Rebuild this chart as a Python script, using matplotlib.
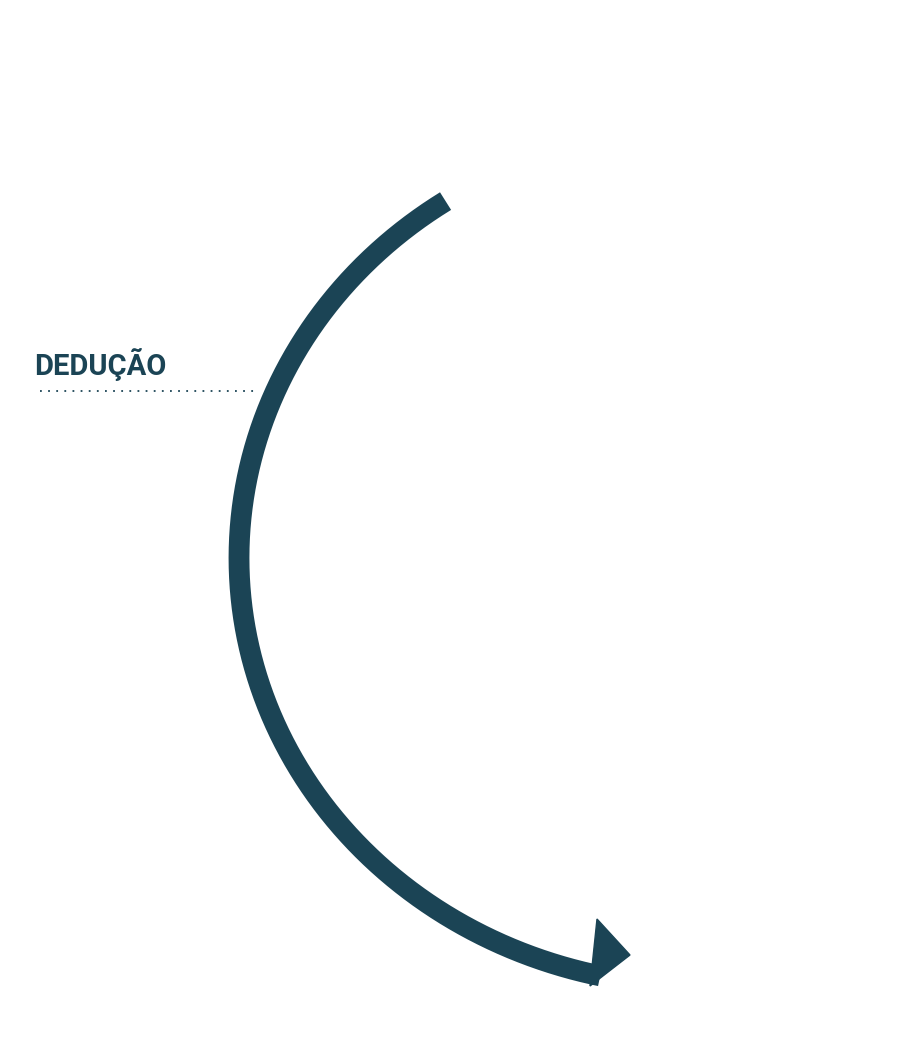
import numpy as np
import matplotlib.pyplot as plt
from matplotlib.patches import Polygon

# Diagram geometry in pixel space (921 x 1062 canvas)
arc_center = (700, 558)
arc_radii = (461, 428)
arc_start_deg = 123.5
arc_end_deg = 257.5
head_points = [(630, 955), (597, 919), (590, 986)]
label = "DEDUÇÃO"
label_pos = (34, 365)
dots_x = [40, 258]
dots_y = 391
color = '#1b4455'

fig = plt.figure(figsize=(9.21, 10.62), dpi=100)
ax = fig.add_axes([0, 0, 1, 1])
ax.set_xlim(0, 921)
ax.set_ylim(1062, 0)
ax.axis('off')

# Arc body (ellipse segment, going counter-clockwise on screen)
t = np.radians(np.linspace(arc_start_deg, arc_end_deg, 300))
xs = arc_center[0] + arc_radii[0] * np.cos(t)
ys = arc_center[1] - arc_radii[1] * np.sin(t)
ax.plot(xs, ys, color=color, linewidth=15, solid_capstyle='butt')

ax.add_patch(Polygon(head_points, closed=True, color=color))

ax.text(label_pos[0], label_pos[1], label, color=color, fontsize=21,
        fontweight='bold', family='Roboto', va='center', ha='left')
ax.plot(dots_x, [dots_y, dots_y], color=color, linewidth=1.3,
        linestyle=(0, (1, 3.5)))

fig.savefig('out.png', dpi=100)
